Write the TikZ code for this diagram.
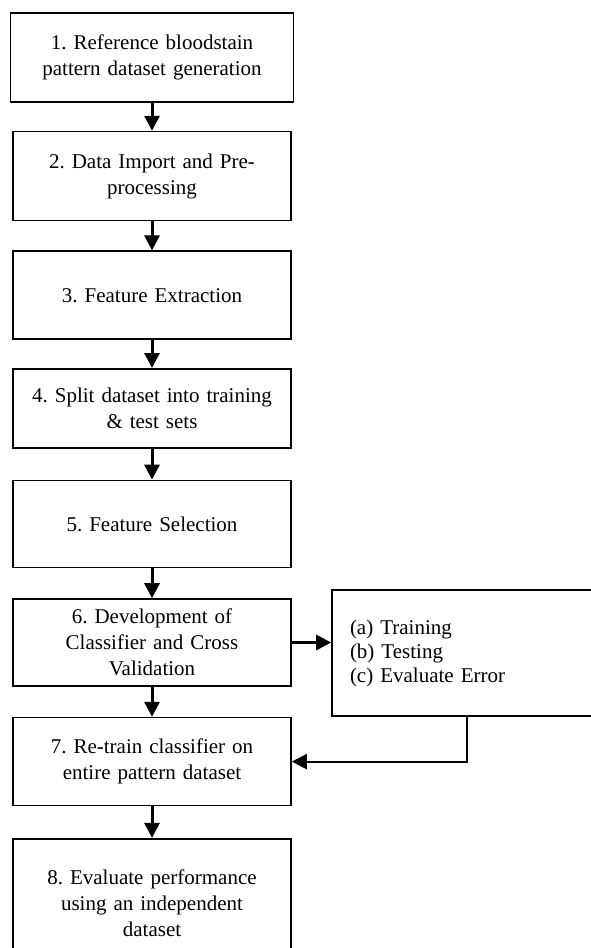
\documentclass[tikz,border=0pt]{standalone}
\usepackage{fontspec}
\setmainfont{Liberation Serif}
\usetikzlibrary{positioning,arrows.meta}
\frenchspacing

\begin{document}
\begin{tikzpicture}[x=1pt, y=-1pt, >={Triangle[length=15pt,width=15pt]},
    stepbox/.style={draw, line width=1.6pt, minimum width=278pt, text width=266pt,
        align=center, inner sep=6pt, font=\fontsize{21}{26}\selectfont},
    subbox/.style={draw, line width=1.6pt, minimum width=270pt, minimum height=126pt,
        text width=234pt, align=left, inner xsep=18pt, font=\fontsize{21}{24}\selectfont},
    flow/.style={->, line width=3pt},
    back/.style={->, line width=2pt}]

    % 1. page size
    \useasboundingbox (0,0) rectangle (591,948);

    % 2. main steps
    \node[stepbox, minimum height=89pt, minimum width=283pt] (s1) at (152,57.5)
        {1. Reference bloodstain\\pattern dataset generation};
    \node[stepbox, minimum height=89pt, below=28pt of s1] (s2)
        {2. Data Import and Pre-\\processing};
    \node[stepbox, minimum height=88pt, below=29pt of s2] (s3)
        {3. Feature Extraction};
    \node[stepbox, minimum height=79pt, below=28pt of s3] (s4)
        {4. Split dataset into training\\\& test sets};
    \node[stepbox, minimum height=87pt, below=31pt of s4] (s5)
        {5. Feature Selection};
    \node[stepbox, minimum height=87pt, below=30pt of s5] (s6)
        {6. Development of\\Classifier and Cross\\Validation};
    \node[stepbox, minimum height=88pt, below=30pt of s6] (s7)
        {7. Re-train classifier on\\entire pattern dataset};
    \node[stepbox, minimum height=128pt, below=30pt of s7, yshift=-1.5pt] (s8)
        {8. Evaluate performance\\using an independent\\dataset};

    % 3. cross validation box
    \node[subbox] (cv) at (467,653)
        {(a) Training\\(b) Testing\\(c) Evaluate Error};

    % 4. arrows
    \foreach \a/\b in {s1/s2, s2/s3, s3/s4, s4/s5, s5/s6, s6/s7, s7/s8}
        \draw[flow] (\a) -- (\b);
    \draw[flow] (s6.east) -- (s6.east -| cv.west);
    \draw[back] (cv.south) |- (s7.east);

\end{tikzpicture}
\end{document}
